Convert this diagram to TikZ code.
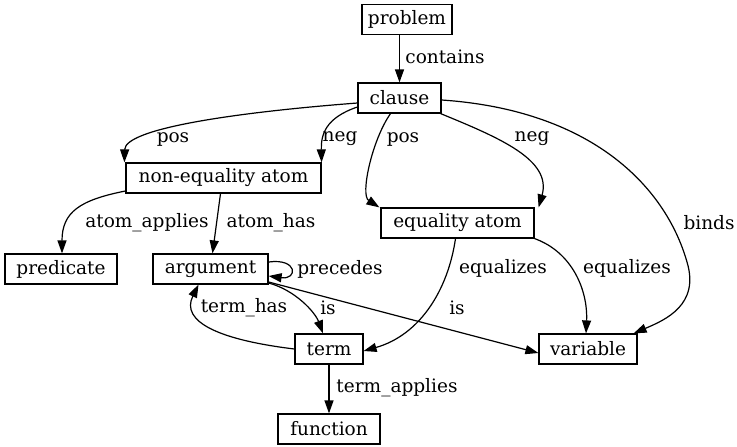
\documentclass[tikz,border=0pt]{standalone}
\usepackage{fontspec}
\setmainfont{DejaVu Serif}
\usetikzlibrary{arrows.meta}

\begin{document}
\begin{tikzpicture}[x=1pt, y=-1pt, font=\fontsize{18.5}{22}\selectfont,
  line width=1.2pt,
  box/.style={draw, minimum width=#1, minimum height=30pt, inner xsep=6pt, inner ysep=0pt},
  arr/.style={-{Triangle[length=13pt, width=9pt]}},
  lbl/.style={inner sep=1pt}
]
  \useasboundingbox (0,0) rectangle (737,447);

  % entities
  \node[box=88pt] (problem) at (407,19.5) {problem};
  \node[box=83pt] (clause) at (399.5,98) {clause};
  \node[box=195pt] (noneq) at (223.5,178) {non-equality atom};
  \node[box=153pt] (eqatom) at (457.5,223) {equality atom};
  \node[box=112pt] (predicate) at (61,269) {predicate};
  \node[box=115pt] (argument) at (210.5,269) {argument};
  \node[box=68pt] (term) at (329,349) {term};
  \node[box=98pt] (variable) at (588,349) {variable};
  \node[box=102pt] (function) at (329,429) {function};

  % relations
  \draw[arr] ([xshift=-7.5pt]problem.south) -- (clause.north);
  \draw[arr] ([yshift=-5pt]clause.west) .. controls (240,112) and (125,128) .. ([xshift=-1pt]noneq.north west);
  \draw[arr] ([yshift=-9pt]clause.west) .. controls (325,118) and (321,135) .. (noneq.north east);
  \draw[arr] ([xshift=-9pt]clause.south) .. controls (372,140) and (360,195) .. ([xshift=-1pt]eqatom.north west);
  \draw[arr] ([xshift=-1pt]clause.south east) .. controls (500,138) and (552,160) .. ([xshift=4pt]eqatom.north east);
  \draw[arr] ([yshift=-2pt]clause.east) .. controls (590,110) and (665,185) .. (687,262)
             .. controls (700,305) and (665,320) .. ([xshift=-4pt]variable.north east);
  \draw[arr] ([yshift=-13pt]noneq.west) .. controls (80,200) and (62,212) .. ([xshift=1pt]predicate.north);
  \draw[arr] ([xshift=-3pt]noneq.south) -- ([xshift=2pt]argument.north);
  \draw[arr] ([yshift=7pt]argument.east) .. controls (298,258) and (298,280) .. ([yshift=-7pt]argument.east);
  \draw[arr] ([yshift=-14pt]argument.east) .. controls (295,290) and (315,312) .. ([xshift=-6pt]term.north);
  \draw[arr] (term.west) .. controls (220,340) and (180,322) .. ([xshift=-12pt]argument.south);
  \draw[arr] ([yshift=-13pt]argument.east) -- ([yshift=-4pt]variable.west);
  \draw[arr] ([xshift=-2pt]eqatom.south) .. controls (448,290) and (420,335) .. ([yshift=-2pt]term.east);
  \draw[arr] (eqatom.south east) .. controls (572,252) and (588,290) .. ([xshift=-2pt]variable.north);
  \draw[arr] (term) -- (function);

  % relation labels
  \node[lbl] (lcontains) at (445,57) {contains};
  \node[lbl] (lpos1) at (173,139) {pos};
  \node[lbl] (lneg1) at (340,139) {neg};
  \node[lbl] (lpos2) at (403,139) {pos};
  \node[lbl] (lneg2) at (532,139) {neg};
  \node[lbl] (lbinds) at (709,223) {binds};
  \node[lbl] (lapplies) at (147,223) {atom\_applies};
  \node[lbl] (lhas) at (271,223) {atom\_has};
  \node[lbl] (lprecedes) at (340,269) {precedes};
  \node[lbl] (ltermhas) at (244,308) {term\_has};
  \node[lbl] (lis1) at (328,308) {is};
  \node[lbl] (lis2) at (457,308) {is};
  \node[lbl] (leq1) at (503,268) {equalizes};
  \node[lbl] (leq2) at (627,268) {equalizes};
  \node[lbl] (ltermapp) at (397,388) {term\_applies};
\end{tikzpicture}
\end{document}
